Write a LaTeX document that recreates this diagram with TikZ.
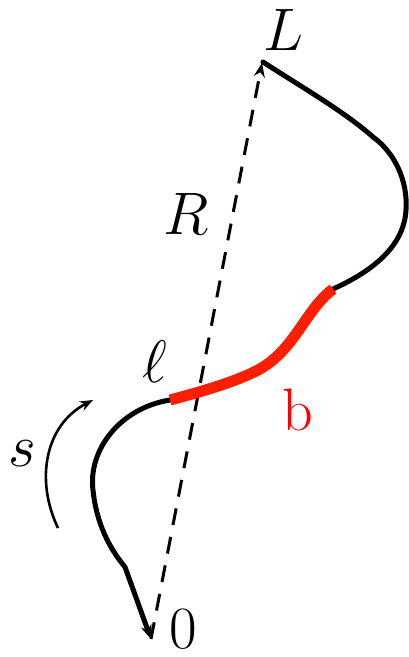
\RequirePackage{fix-cm}
\documentclass[tikz,border=0pt]{standalone}
\usetikzlibrary{arrows.meta}
\begin{document}
\begin{tikzpicture}[x=1pt,y=-1pt,
  lab/.style={inner sep=0pt,font=\fontsize{60}{72}\selectfont},
  curve/.style={line width=5pt,line cap=round},
  redpart/.style={line width=11pt,draw={rgb,255:red,255;green,30;blue,0}},
  dashline/.style={line width=3pt,dash pattern=on 17pt off 12pt},
  tip/.style={-{Stealth[length=14pt,width=11pt]}}]
\useasboundingbox (0,0) rectangle (409,657);
% key points
\coordinate (O) at (151,639);
\coordinate (Ltip) at (262,63);
\coordinate (Lstart) at (263,62);
\coordinate (K) at (373,137);
\coordinate (E) at (406,210);
\coordinate (Rtop) at (333,289);
\coordinate (Rmid) at (258,370);
\coordinate (Rbot) at (170,400);
\coordinate (W) at (93,490);
\coordinate (Kb) at (125,567);
\coordinate (s0) at (58,528);
\coordinate (s1) at (93,400);
% dashed chord
\draw[dashline,tip] (O) -- (Ltip);
% black curve
\draw[curve] (Lstart) .. controls (300,86) and (345,112) .. (K)
  .. controls (394,152) and (408,180) .. (E)
  .. controls (404,245) and (375,270) .. (Rtop);
\draw[curve,tip] (Rbot) .. controls (120,408) and (88,450) .. (W)
  .. controls (97,530) and (115,555) .. (Kb) -- (O);
% red part
\draw[redpart] (Rtop) .. controls (305,310) and (295,350) .. (Rmid)
  .. controls (235,382) and (200,392) .. (Rbot);
% s arrow
\draw[line width=2.6pt,-{Stealth[length=13pt,width=10pt]}] (s0) .. controls (35,480) and (45,425) .. (s1);
% labels
\node[lab] (labL) at (283,30) {$L$};
\node[lab] (labR) at (186,214) {$R$};
\node[lab] (labl) at (155,362) {$\ell$};
\node[lab] (labs) at (22,454) {$s$};
\node[lab] (lab0) at (183,629) {$0$};
\node[lab,text={rgb,255:red,255;green,0;blue,0}] (labb) at (298,410) {b};
\end{tikzpicture}
\end{document}
